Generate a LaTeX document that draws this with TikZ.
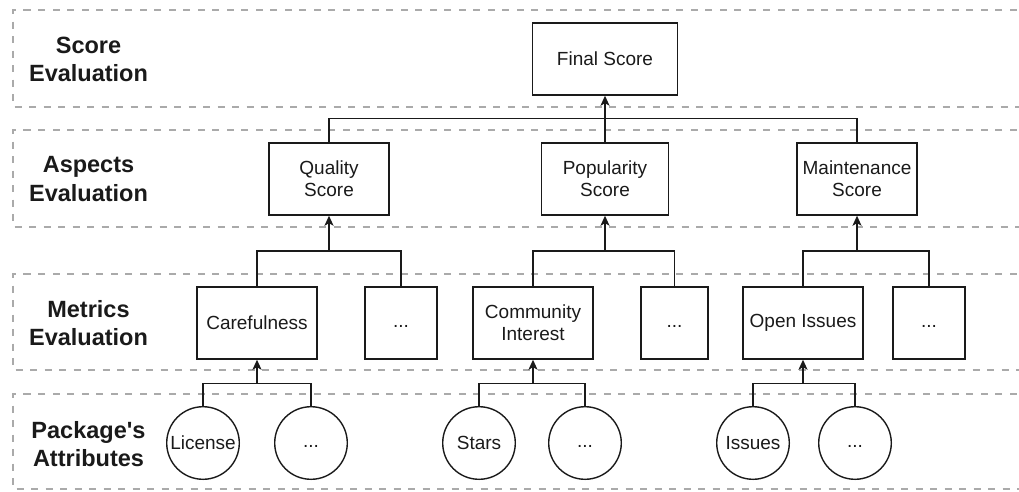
\documentclass[tikz,border=0pt]{standalone}
\usepackage{fontspec}
\setmainfont{Liberation Sans}
\usetikzlibrary{arrows.meta}
\definecolor{lanegray}{HTML}{AAAAAA}
\definecolor{ink}{HTML}{1A1A1A}
\newcommand{\moredots}{\vphantom{Ay}...}
\begin{document}
\begin{tikzpicture}[x=1pt,y=-1pt,
  lane/.style={draw=lanegray,line width=2pt,dash pattern=on 7pt off 7.5pt},
  lanelabel/.style={font=\fontsize{23.5}{28.5}\selectfont\bfseries,align=center,text=ink},
  box/.style={draw=ink,line width=1.4pt,inner sep=0pt,align=center,minimum height=72pt,
    font=\fontsize{19}{22}\selectfont,text=ink},
  circ/.style={draw=ink,line width=1.4pt,circle,inner sep=0pt,minimum size=72.6pt,
    font=\fontsize{19}{22}\selectfont,text=ink},
  conn/.style={draw=ink,line width=1.4pt},
  arr/.style={draw=ink,line width=1.6pt,-{Stealth[length=10pt,width=9pt,inset=2.5pt]}}]
\useasboundingbox (0,0) rectangle (1019,491);
\clip (0,0) rectangle (1019,491);
% lanes (their right ends run off the picture)
\draw[lane] (1060,10) -- (13,10) -- (13,107) -- (1060,107);
\draw[lane] (1060,130) -- (13,130) -- (13,227) -- (1060,227);
\draw[lane] (1060,274) -- (13,274) -- (13,370) -- (1060,370);
\draw[lane] (1060,394) -- (13,394) -- (13,489) -- (1060,489);
% lane labels
\node[lanelabel] (l1) at (88.5,59.5) {Score\\Evaluation};
\node[lanelabel] (l2) at (88.5,179) {Aspects\\Evaluation};
\node[lanelabel] (l3) at (88.5,323) {Metrics\\Evaluation};
\node[lanelabel] (l4) at (88.5,444) {Package\textquotesingle s\\Attributes};
% nodes
\node[box,minimum width=145pt] (final) at (605,59) {Final Score};
\node[box,minimum width=120pt] (qual) at (329,179) {Quality\\Score};
\node[box,minimum width=127pt] (pop) at (605,179) {Popularity\\Score};
\node[box,minimum width=120pt] (maint) at (857,179) {Maintenance\\Score};
\node[box,minimum width=120pt] (care) at (257,323) {Carefulness};
\node[box,minimum width=72pt] (d1) at (401,323) {\moredots};
\node[box,minimum width=120pt] (comm) at (533,323) {Community\\Interest};
\node[box,minimum width=67pt] (d2) at (674.5,323) {\moredots};
\node[box,minimum width=120pt] (open) at (803,323) {Open Issues};
\node[box,minimum width=72pt] (d3) at (929,323) {\moredots};
\node[circ] (lic) at (203,443) {License};
\node[circ] (c1) at (311,443) {\moredots};
\node[circ] (stars) at (479,443) {Stars};
\node[circ] (c2) at (585,443) {\moredots};
\node[circ] (iss) at (753,443) {Issues};
\node[circ] (c3) at (855,443) {\moredots};
% connectors: aspects -> final
\draw[conn] (qual.north) -- ++(0,-24) -| (maint.north);
\draw[arr] (pop.north) -- (final.south);
% metrics -> aspects
\coordinate (qb) at (329,251);
\coordinate (pb) at (605,251);
\coordinate (mb) at (857,251);
\draw[conn] (care.north) |- (qb) -| (d1.north);
\draw[conn] (comm.north) |- (pb) -| (d2.north);
\draw[conn] (open.north) |- (mb) -| (d3.north);
\draw[arr] (qb) -- (qual.south);
\draw[arr] (pb) -- (pop.south);
\draw[arr] (mb) -- (maint.south);
% attributes -> metrics
\coordinate (cb) at (257,383.3);
\coordinate (ib) at (533,383.3);
\coordinate (ob) at (803,383.3);
\draw[conn] (lic.north) |- (cb) -| (c1.north);
\draw[conn] (stars.north) |- (ib) -| (c2.north);
\draw[conn] (iss.north) |- (ob) -| (c3.north);
\draw[arr] (cb) -- (care.south);
\draw[arr] (ib) -- (comm.south);
\draw[arr] (ob) -- (open.south);
\end{tikzpicture}
\end{document}
